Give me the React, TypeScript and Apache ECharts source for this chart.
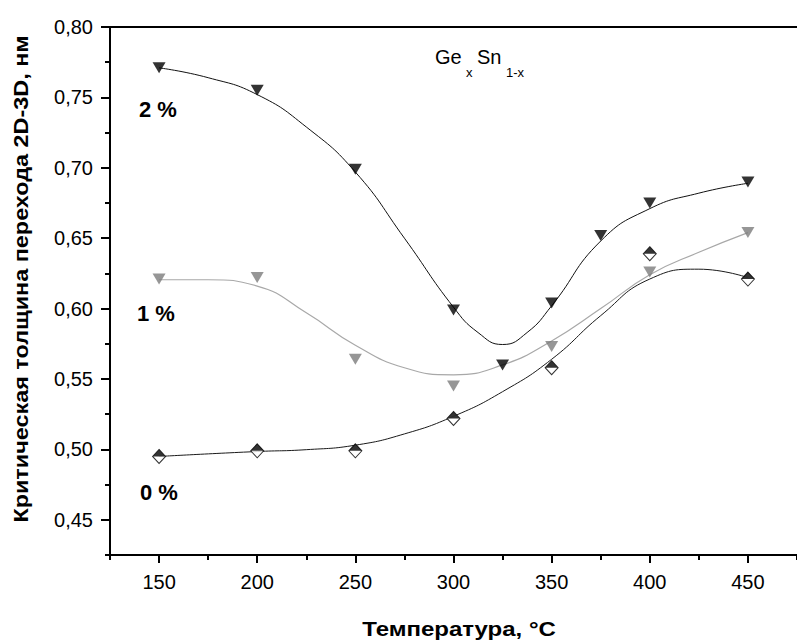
import React, { useEffect, useRef } from "react";
import * as echarts from "echarts";

// measured points (markers)
const temps2 = [150, 200, 250, 300, 325, 350, 375, 400, 450];
const thick2 = [0.771, 0.755, 0.699, 0.599, 0.560, 0.604, 0.652, 0.675, 0.690];
const temps = [150, 200, 250, 300, 350, 400, 450];
const thick1 = [0.621, 0.622, 0.564, 0.545, 0.573, 0.626, 0.654];
const thick0 = [0.495, 0.499, 0.499, 0.522, 0.558, 0.639, 0.621];

// fitted curves
const fit2X = [150, 175, 200, 225, 250, 275, 300, 312.5, 325, 337.5, 350, 375, 400, 425, 450];
const fit2Y = [0.771, 0.764, 0.752, 0.729, 0.697, 0.650, 0.601, 0.583, 0.5745, 0.583, 0.602, 0.648, 0.671, 0.682, 0.689];
const fit1X = [150, 175, 200, 225, 250, 275, 300, 325, 350, 375, 400, 425, 450];
const fit1Y = [0.6205, 0.6205, 0.616, 0.597, 0.574, 0.558, 0.553, 0.560, 0.577, 0.600, 0.624, 0.640, 0.654];
const fit0X = [150, 200, 225, 250, 275, 300, 325, 350, 375, 400, 425, 450];
const fit0Y = [0.495, 0.4985, 0.4998, 0.503, 0.511, 0.5235, 0.541, 0.564, 0.595, 0.621, 0.628, 0.622];

const xMajor = [150, 200, 250, 300, 350, 400, 450];
const xMinor = [125, 175, 225, 275, 325, 375, 425, 475];
const yMajor = [0.45, 0.5, 0.55, 0.6, 0.65, 0.7, 0.75, 0.8];
const yMinor = [0.425, 0.475, 0.525, 0.575, 0.625, 0.675, 0.725, 0.775];

const FONT = "'Liberation Sans', Arial, sans-serif";
const zip = (a: number[], b: number[]) => a.map((v, i) => [v, b[i]]);

export default function App() {
  const ref = useRef<HTMLDivElement>(null);
  useEffect(() => {
    if (!ref.current) return;
    const chart = echarts.init(ref.current, null, { renderer: "svg" });
    const axisLineStyle = { color: "#000", width: 2 };
    const tickStyle = { color: "#000", width: 2 };
    chart.setOption({
      animation: false,
      backgroundColor: "#fff",
      grid: { left: 110, top: 27, right: -9, bottom: 88, containLabel: false },
      xAxis: [
        {
          type: "value", min: 125, max: 475, position: "bottom",
          axisLine: { show: true, lineStyle: axisLineStyle },
          axisTick: { show: true, customValues: xMajor, length: 8, lineStyle: tickStyle },
          axisLabel: { customValues: xMajor, fontSize: 20, color: "#000", fontFamily: FONT, margin: 17 },
          splitLine: { show: false },
        },
        {
          type: "value", min: 125, max: 475, position: "bottom",
          axisLine: { show: false },
          axisTick: { show: true, customValues: xMinor, length: 5, lineStyle: tickStyle },
          axisLabel: { show: false }, splitLine: { show: false },
        },
        {
          type: "value", min: 125, max: 475, position: "top",
          axisLine: { show: true, lineStyle: axisLineStyle },
          axisTick: { show: false }, axisLabel: { show: false }, splitLine: { show: false },
        },
      ],
      yAxis: [
        {
          type: "value", min: 0.425, max: 0.8, position: "left",
          axisLine: { show: true, lineStyle: axisLineStyle },
          axisTick: { show: true, customValues: yMajor, length: 9, lineStyle: tickStyle },
          axisLabel: {
            customValues: yMajor, fontSize: 20, color: "#000", fontFamily: FONT, margin: 17,
            formatter: (v: number) => v.toFixed(2).replace(".", ","),
          },
          splitLine: { show: false },
        },
        {
          type: "value", min: 0.425, max: 0.8, position: "left",
          axisLine: { show: false },
          axisTick: { show: true, customValues: yMinor, length: 5, lineStyle: tickStyle },
          axisLabel: { show: false }, splitLine: { show: false },
        },
      ],
      graphic: [
        {
          type: "text", x: 21, y: 279, rotation: Math.PI / 2, scaleX: 1.17,
          style: {
            text: "Критическая толщина перехода 2D-3D, нм",
            font: `bold 20px ${FONT}`, fill: "#000", align: "center", verticalAlign: "middle",
          },
        },
        {
          type: "text", x: 459, y: 629, scaleX: 1.2,
          style: {
            text: "Температура, °C",
            font: `bold 20px ${FONT}`, fill: "#000", align: "center", verticalAlign: "middle",
          },
        },
        { type: "text", x: 435, y: 57, style: { text: "Ge", font: `20px ${FONT}`, fill: "#000", align: "left", verticalAlign: "middle" } },
        { type: "text", x: 466, y: 72.5, style: { text: "x", font: `13px ${FONT}`, fill: "#000", align: "left", verticalAlign: "middle" } },
        { type: "text", x: 477, y: 57, style: { text: "Sn", font: `20px ${FONT}`, fill: "#000", align: "left", verticalAlign: "middle" } },
        { type: "text", x: 506, y: 72.5, style: { text: "1-x", font: `13px ${FONT}`, fill: "#000", align: "left", verticalAlign: "middle" } },
        { type: "text", x: 139, y: 109, style: { text: "2 %", font: `bold 22px ${FONT}`, fill: "#000", align: "left", verticalAlign: "middle" } },
        { type: "text", x: 137, y: 313, style: { text: "1 %", font: `bold 22px ${FONT}`, fill: "#000", align: "left", verticalAlign: "middle" } },
        { type: "text", x: 140, y: 492, style: { text: "0 %", font: `bold 22px ${FONT}`, fill: "#000", align: "left", verticalAlign: "middle" } },
      ],
      series: [
        {
          type: "line", data: zip(fit2X, fit2Y), smooth: 0.5, showSymbol: false, symbol: "none",
          lineStyle: { color: "#111", width: 1 }, silent: true, z: 2,
        },
        {
          type: "line", data: zip(fit1X, fit1Y), smooth: 0.5, showSymbol: false, symbol: "none",
          lineStyle: { color: "#a8a8a8", width: 1.2 }, silent: true, z: 2,
        },
        {
          type: "line", data: zip(fit0X, fit0Y), smooth: 0.5, showSymbol: false, symbol: "none",
          lineStyle: { color: "#1a1a1a", width: 1 }, silent: true, z: 2,
        },
        {
          type: "scatter", data: zip(temps2, thick2), symbol: "triangle", symbolRotate: 180,
          symbolSize: [13, 11], itemStyle: { color: "#000" }, z: 5,
        },
        {
          type: "scatter", data: zip(temps, thick1), symbol: "triangle", symbolRotate: 180,
          symbolSize: [13, 11], itemStyle: { color: "#7c7c7c" }, z: 5,
        },
        {
          type: "scatter", data: zip(temps, thick0), symbol: "diamond",
          symbolSize: [13, 14], itemStyle: { color: "#fff", borderColor: "#000", borderWidth: 1 }, z: 5,
        },
        {
          type: "scatter", data: zip(temps, thick0), symbol: "path://M0,10 L10,0 L20,10 Z",
          symbolSize: [13, 7], symbolOffset: [0, -3.5], itemStyle: { color: "#000" }, z: 6,
        },
      ],
    });
    return () => chart.dispose();
  }, []);
  return (
    <div
      ref={ref}
      style={{ position: "fixed", left: 0, top: 0, width: 797, height: 643, background: "#fff" }}
    />
  );
}
